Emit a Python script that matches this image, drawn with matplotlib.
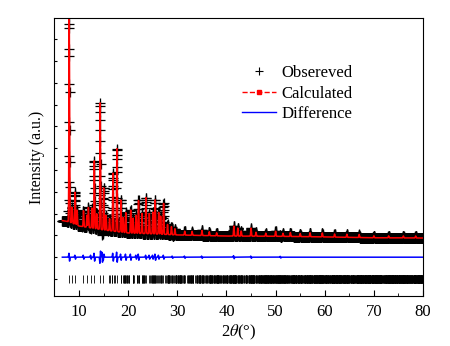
import numpy as np
import matplotlib.pyplot as plt
from matplotlib.lines import Line2D

plt.rcParams['font.family'] = ['Liberation Serif', 'DejaVu Serif']
plt.rcParams['mathtext.fontset'] = 'stix'

# Fondo (2theta, cuentas)
bg_tt = [6.6, 8.0, 10.0, 15.0, 20.0, 25.0, 30.0, 40.0, 50.0, 60.0, 70.0, 80.0]
bg_int = [2680, 2620, 2430, 2250, 2110, 2070, 2020, 1970, 1960, 1930, 1890, 1880]

# Picos principales (posicion, altura sobre el fondo)
pk_tt = [8.0, 8.6, 9.2, 9.6, 10.9, 11.6, 11.9, 12.6, 13.1, 13.6, 14.3, 15.0,
         15.5, 16.2, 16.9, 17.7, 18.5, 19.0, 19.5, 20.5, 21.0, 21.6, 22.1,
         22.8, 23.6, 24.3, 25.0, 25.5, 26.2, 26.6, 27.2, 28.0, 28.8, 29.5,
         31.5, 33.0, 35.0, 36.5, 38.0, 41.5, 42.3, 43.0, 45.0, 46.0, 48.0,
         50.0, 51.5, 53.0, 55.0, 57.0, 59.5, 62.0, 64.5, 67.0, 70.0, 73.0,
         76.0, 78.5]
pk_h = [9400, 730, 1470, 690, 730, 550, 920, 920, 3100, 690, 5800, 1930,
        690, 550, 2660, 3800, 1470, 690, 920, 1060, 690, 830, 1510,
        920, 1650, 920, 1000, 1560, 1000, 830, 1420, 460, 370, 280,
        180, 180, 230, 180, 140, 460, 370, 230, 370, 180, 140,
        230, 140, 180, 140, 180, 180, 140, 140, 140, 90, 90,
        90, 90]

# Residuos (posicion, amplitud)
df_tt = [8.0, 9.2, 10.9, 12.4, 13.1, 14.3, 14.7, 15.0, 16.9, 17.7, 18.5, 19.5,
         20.5, 21.6, 22.1, 23.6, 24.3, 25.0, 25.5, 26.2, 27.2, 29.0, 31.5,
         35.0, 41.5, 45.0, 51.0]
df_amp = [180, 90, 90, 90, 180, -280, 230, -140, 180, 230, 140, 140,
          140, 90, 140, 90, 90, 90, 140, 90, 90, 50, 50,
          50, 70, 50, 40]

# Reflexiones de Bragg
refl_low = [8.0, 8.6, 9.1, 10.9, 11.6, 12.4, 13.1, 14.3, 14.8]
cell = (22.1, 15.4, 9.6)
wl = 1.5406

tt = np.arange(6.6, 80.0, 0.02)
sig = 0.065
bg = np.interp(tt, bg_tt, bg_int)
calc = bg.copy()
for p, h in zip(pk_tt, pk_h):
    calc += h * np.exp(-(tt - p) ** 2 / (2 * sig ** 2))
diff = np.zeros_like(tt)
for p, a in zip(df_tt, df_amp):
    z = (tt - p) / sig
    diff += a * (-z) * np.exp(0.5 - z ** 2 / 2)
obs = calc + diff

refl = list(refl_low)
for h in range(0, 30):
    for k in range(0, 25):
        for l in range(0, 15):
            if h == k == l == 0:
                continue
            d = 1 / np.sqrt((h / cell[0]) ** 2 + (k / cell[1]) ** 2 + (l / cell[2]) ** 2)
            s = wl / (2 * d)
            if s < 1:
                t2 = 2 * np.degrees(np.arcsin(s))
                if 16.0 < t2 < 80:
                    refl.append(t2)

fig = plt.figure(figsize=(4.5, 3.46), dpi=100)
ax = fig.add_axes([0.12, 0.1445, 0.82, 0.8035])
ax.plot(tt, obs, '+', color='black', ms=7, mew=0.9)
ax.plot(tt, calc, color='red', lw=1.1)
ax.plot(tt, diff + 1000, color='blue', lw=1.1)
ax.vlines(refl, -190, 190, color='black', lw=0.6)

ax.set_xlim(4.9, 80)
ax.set_ylim(-780, 11970)
ax.set_xticks(range(10, 81, 10))
ax.set_xticks(range(5, 81, 10), minor=True)
ax.set_yticks(range(0, 11001, 1000))
ax.set_yticklabels([])
ax.tick_params(axis='x', which='major', direction='in', length=4.5, labelsize=12, pad=6)
ax.tick_params(axis='x', which='minor', direction='in', length=2.5)
ax.tick_params(axis='y', direction='in', length=2.5)
ax.set_xlabel(r'2$\theta$(°)', fontsize=12, labelpad=2)
ax.set_ylabel('Intensity (a.u.)', fontsize=11.5, labelpad=3)

handles = [Line2D([], [], ls='none', marker='+', color='black', ms=6, mew=0.8),
           Line2D([], [], ls='--', marker='s', color='red', ms=3, lw=1),
           Line2D([], [], ls='-', color='blue', lw=1)]
ax.legend(handles, ['Obsereved', 'Calculated', 'Difference'], frameon=False,
          loc='upper left', bbox_to_anchor=(0.47, 0.885), fontsize=12,
          handlelength=2.0, handletextpad=0.35, labelspacing=0.28)

fig.savefig('out.png', dpi=100)
